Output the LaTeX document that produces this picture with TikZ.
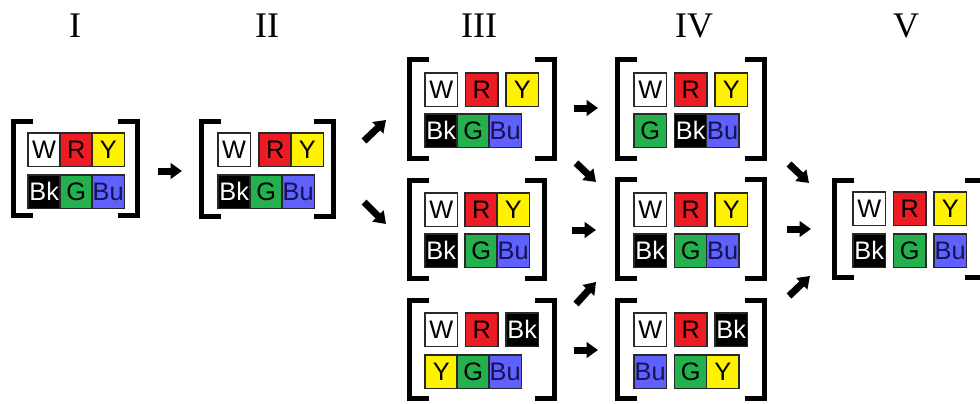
\documentclass[tikz,border=0pt]{standalone}
\usepackage{fontspec}
\newfontfamily\cellfont{Liberation Sans}
\newfontfamily\titlefont{Liberation Serif}
\usetikzlibrary{arrows.meta}
\definecolor{cred}{RGB}{237,28,36}
\definecolor{cyel}{RGB}{255,242,0}
\definecolor{cgrn}{RGB}{34,177,76}
\definecolor{cblu}{RGB}{96,96,255}
\definecolor{cbdr}{RGB}{40,40,40}
\definecolor{cbutext}{RGB}{20,20,80}
\tikzset{
 cell/.style={draw=cbdr, line width=1.4pt, minimum width=24.4pt, minimum height=25.2pt,
   inner sep=0pt, anchor=north west, font=\cellfont\fontsize{19}{19}\selectfont},
 cW/.style={cell, fill=white, text=black},
 cR/.style={cell, fill=cred, text=black},
 cY/.style={cell, fill=cyel, text=black},
 cBk/.style={cell, fill=black, text=white},
 cG/.style={cell, fill=cgrn, text=black},
 cBu/.style={cell, fill=cblu, text=cbutext},
 brack/.style={line width=3.75pt, line join=miter, line cap=butt},
 barrow/.style={line width=5.25pt, -{Triangle[width=11.5pt,length=8.5pt]}},
 stagetitle/.style={font=\titlefont\fontsize{27}{27}\selectfont, anchor=base}
}
\newcommand\mybrk[4]{%
 \draw[brack] ({#1+22},{#3+2.5}) -- ({#1+2.5},{#3+2.5}) -- ({#1+2.5},{#4-2.5}) -- ({#1+22},{#4-2.5});
 \draw[brack] ({#2-22},{#3+2.5}) -- ({#2-2.5},{#3+2.5}) -- ({#2-2.5},{#4-2.5}) -- ({#2-22},{#4-2.5});
}
\begin{document}
\begin{tikzpicture}[x=0.75pt,y=-0.75pt]
\useasboundingbox (0,0) rectangle (980,403);
\clip (0,0) rectangle (980,403);
\fill[white] (0,0) rectangle (980,403);
% titles
\node[stagetitle] (t1) at (75,38) {I};
\node[stagetitle] (t2) at (267,38) {II};
\node[stagetitle] (t3) at (479,38) {III};
\node[stagetitle] (t4) at (694,38) {IV};
\node[stagetitle] (t5) at (906,38) {V};
% Stage I
\node[cW] (aW) at (27,132) {W};
\node[cR] (aR) at (59,132) {R};
\node[cY] (aY) at (91,132) {Y};
\node[cBk] (aBk) at (27,174) {Bk};
\node[cG] (aG) at (59,174) {G};
\node[cBu] (aBu) at (91,174) {Bu};
\mybrk{11}{140}{119}{218}
% Stage II
\node[cW] (bW) at (217,132) {W};
\node[cR] (bR) at (258,132) {R};
\node[cY] (bY) at (290,132) {Y};
\node[cBk] (bBk) at (217,174) {Bk};
\node[cG] (bG) at (249,174) {G};
\node[cBu] (bBu) at (281,174) {Bu};
\mybrk{199}{336}{119}{219}
% Stage III top
\node[cW] (cW1) at (424,72) {W};
\node[cR] (cR1) at (464.5,72) {R};
\node[cY] (cY1) at (505,72) {Y};
\node[cBk] (cBk1) at (424,113) {Bk};
\node[cG] (cG1) at (456,113) {G};
\node[cBu] (cBu1) at (488,113) {Bu};
\mybrk{407}{557}{57}{161}
% Stage III middle
\node[cW] (cW2) at (424,192) {W};
\node[cR] (cR2) at (464,192) {R};
\node[cY] (cY2) at (496,192) {Y};
\node[cBk] (cBk2) at (424,233) {Bk};
\node[cG] (cG2) at (464,233) {G};
\node[cBu] (cBu2) at (496,233) {Bu};
\mybrk{407}{547}{178}{281}
% Stage III bottom
\node[cW] (cW3) at (424,312) {W};
\node[cR] (cR3) at (464.5,312) {R};
\node[cBk] (cBk3) at (505,312) {Bk};
\node[cY] (cY3) at (424,354) {Y};
\node[cG] (cG3) at (456,354) {G};
\node[cBu] (cBu3) at (488,354) {Bu};
\mybrk{407}{557}{298}{401}
% Stage IV top
\node[cW] (dW1) at (633,72) {W};
\node[cR] (dR1) at (673.5,72) {R};
\node[cY] (dY1) at (714,72) {Y};
\node[cG] (dG1) at (633,113) {G};
\node[cBk] (dBk1) at (673.5,113) {Bk};
\node[cBu] (dBu1) at (705.5,113) {Bu};
\mybrk{615}{767}{57}{161}
% Stage IV middle
\node[cW] (dW2) at (633,192) {W};
\node[cR] (dR2) at (673.5,192) {R};
\node[cY] (dY2) at (714,192) {Y};
\node[cBk] (dBk2) at (633,233) {Bk};
\node[cG] (dG2) at (673.5,233) {G};
\node[cBu] (dBu2) at (705.5,233) {Bu};
\mybrk{615}{767}{177}{281}
% Stage IV bottom
\node[cW] (dW3) at (633,312) {W};
\node[cR] (dR3) at (673.5,312) {R};
\node[cBk] (dBk3) at (714,312) {Bk};
\node[cBu] (dBu3) at (633,354) {Bu};
\node[cG] (dG3) at (673.5,354) {G};
\node[cY] (dY3) at (705.5,354) {Y};
\mybrk{615}{767}{298}{401}
% Stage V
\node[cW] (eW) at (852,191) {W};
\node[cR] (eR) at (892.5,191) {R};
\node[cY] (eY) at (933,191) {Y};
\node[cBk] (eBk) at (852,233) {Bk};
\node[cG] (eG) at (892.5,233) {G};
\node[cBu] (eBu) at (933,233) {Bu};
\mybrk{832}{987}{178}{280}
% arrow end points
\coordinate (p1s) at (158,171); \coordinate (p1e) at (182,171);
\coordinate (p2s) at (364,141); \coordinate (p2e) at (386,120);
\coordinate (p3s) at (364,202); \coordinate (p3e) at (386,224);
\coordinate (p4s) at (574,108); \coordinate (p4e) at (598,108);
\coordinate (p5s) at (576,163); \coordinate (p5e) at (596,182);
\coordinate (p6s) at (572,230); \coordinate (p6e) at (596,230);
\coordinate (p7s) at (576,304); \coordinate (p7e) at (596,282);
\coordinate (p8s) at (574,350); \coordinate (p8e) at (598,350);
\coordinate (p9s) at (789,164); \coordinate (p9e) at (809,183);
\coordinate (p10s) at (787,229); \coordinate (p10e) at (811,229);
\coordinate (p11s) at (789,296); \coordinate (p11e) at (810,276);
\foreach \i in {1,...,11} \draw[barrow] (p\i s) -- (p\i e);
\end{tikzpicture}
\end{document}
